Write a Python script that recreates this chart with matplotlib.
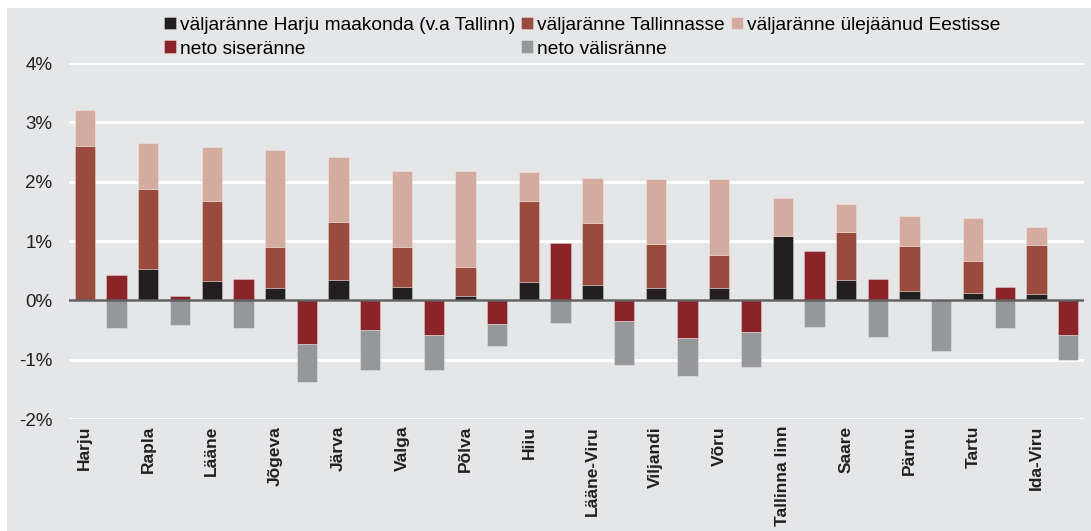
import matplotlib.pyplot as plt
import numpy as np
from matplotlib.patches import Rectangle

regions = ["Harju", "Rapla", "Lääne", "Jõgeva", "Järva", "Valga", "Põlva", "Hiiu",
           "Lääne-Viru", "Viljandi", "Võru", "Tallinna linn", "Saare", "Pärnu",
           "Tartu", "Ida-Viru"]

# outflow shares, % of population
to_harju = [0.00, 0.53, 0.32, 0.21, 0.34, 0.23, 0.08, 0.31,
            0.26, 0.20, 0.21, 1.08, 0.35, 0.16, 0.12, 0.10]
to_tallinn = [2.60, 1.35, 1.36, 0.69, 0.98, 0.67, 0.49, 1.37,
              1.05, 0.75, 0.56, 0.00, 0.80, 0.76, 0.55, 0.84]
to_rest = [0.60, 0.78, 0.90, 1.63, 1.09, 1.28, 1.61, 0.48,
           0.76, 1.09, 1.27, 0.64, 0.48, 0.50, 0.71, 0.29]

# net migration
net_internal = [0.43, 0.07, 0.36, -0.74, -0.50, -0.59, -0.40, 0.96,
                -0.34, -0.63, -0.53, 0.83, 0.36, 0.01, 0.23, -0.59]
net_external = [-0.47, -0.42, -0.47, -0.64, -0.68, -0.59, -0.37, -0.38,
                -0.75, -0.64, -0.59, -0.45, -0.62, -0.85, -0.47, -0.41]

labels = ["väljaränne Harju maakonda (v.a Tallinn)", "väljaränne Tallinnasse",
          "väljaränne ülejäänud Eestisse", "neto siseränne", "neto välisränne"]
colors = ["#231f20", "#9a4b3d", "#d4ac9f", "#8a2429", "#96979a"]
bg = "#e5e6e8"

plt.rcParams["font.family"] = ["Liberation Sans", "DejaVu Sans"]

fig = plt.figure(figsize=(10.91, 5.31), dpi=100, facecolor="white")
fig.patches.append(Rectangle((7 / 1091, 0), 1, 1 - 8 / 531, transform=fig.transFigure,
                             facecolor=bg, edgecolor="none", zorder=-10))
ax = fig.add_axes([69 / 1091, 1 - 419 / 531, (1084 - 69) / 1091, (419 - 63) / 531])
ax.set_facecolor(bg)

x = np.arange(len(regions))
w = 0.32
x1 = x + 0.25
x2 = x + 0.75
edge = dict(edgecolor=(1, 1, 1, 0.35), linewidth=0.6, zorder=3)

h = np.array(to_harju)
t = np.array(to_tallinn)
r = np.array(to_rest)
b0 = ax.bar(x1, h, w, color=colors[0], **edge)
b1 = ax.bar(x1, t, w, bottom=h, color=colors[1], **edge)
b2 = ax.bar(x1, r, w, bottom=h + t, color=colors[2], **edge)

ni = np.array(net_internal)
ne = np.array(net_external)
b3 = ax.bar(x2, ni, w, color=colors[3], **edge)
b4 = ax.bar(x2, ne, w, bottom=np.minimum(ni, 0), color=colors[4], **edge)

ax.set_xlim(0, len(regions))
ax.set_ylim(-2, 4)
ax.set_yticks(range(-2, 5))
ax.set_yticklabels([f"{v}%" for v in range(-2, 5)], fontsize=13.5, color="#231f20")
ax.yaxis.grid(True, color="white", linewidth=2.2, zorder=1)
ax.set_axisbelow(True)
ax.axhline(0, color="#616163", linewidth=1.8, zorder=4)

ax.set_xticks(x1)
ax.set_xticklabels(regions, rotation=90, fontsize=12.5, fontweight="bold",
                   color="#231f20", va="top")
ax.tick_params(axis="both", length=0)
ax.tick_params(axis="x", pad=5)
ax.tick_params(axis="y", pad=12)
for s in ax.spines.values():
    s.set_visible(False)

handles = [b0, b3, b1, b4, b2]
order = [labels[0], labels[3], labels[1], labels[4], labels[2]]
fig.legend(handles, order, ncol=3, loc="upper left", bbox_to_anchor=(154 / 1091, 1 - 7 / 531),
           frameon=False, fontsize=13.8, handlelength=0.65, handleheight=0.65,
           handletextpad=0.2, columnspacing=0.3, labelspacing=0.35, borderpad=0)

fig.savefig("out.png", dpi=100, facecolor="white")
